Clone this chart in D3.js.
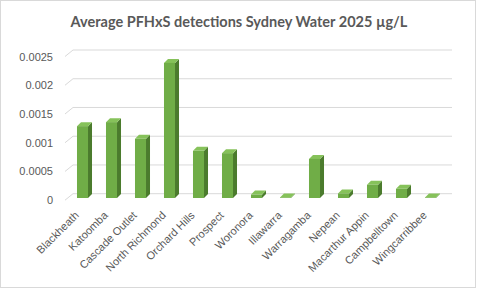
<!DOCTYPE html>
<html>
<head>
<meta charset="utf-8">
<script src="https://cdn.jsdelivr.net/npm/d3@7"></script>
<style>
  html, body { margin: 0; padding: 0; background: #fff; }
  svg { display: block; }
  text { font-family: "Liberation Sans", Arial, sans-serif; fill: #595959; }
</style>
</head>
<body>
<svg id="chart" width="480" height="289"></svg>
<script>
// Sites and average PFHxS values (µg/L)
const sites = [
  'Blackheath', 'Katoomba', 'Cascade Outlet', 'North Richmond', 'Orchard Hills',
  'Prospect', 'Woronora', 'Illawarra', 'Warragamba', 'Nepean',
  'Macarthur Appin', 'Campbelltown', 'Wingcarribbee'
];
const values = [
  0.00125, 0.00132, 0.00103, 0.00235, 0.00082,
  0.00078, 0.00006, 0.00001, 0.00068, 0.00008,
  0.00023, 0.00016, 0.00001
];
const yTicks = [0, 0.0005, 0.001, 0.0015, 0.002, 0.0025];
const yTickLabels = ['0', '0.0005', '0.001', '0.0015', '0.002', '0.0025'];

const svg = d3.select('#chart');

// 3D offsets: back wall vs front plane, bar depth
const WALL_DX = 5, WALL_DY = -4.3;
const FLOOR_DX = 8, FLOOR_DY = -6.5;
const DEPTH = 4;

const COLORS = {
  front: '#70ad47',
  side: '#4b7b2d',
  top: '#86c25a',
  grid: '#d9d9d9',
  border: '#d9d9d9'
};

// chart border
svg.append('rect')
  .attr('x', 0.5).attr('y', 0.5)
  .attr('width', 475).attr('height', 287)
  .attr('fill', '#fff')
  .attr('stroke', COLORS.border);

// title
svg.append('text')
  .attr('x', 239).attr('y', 27)
  .attr('text-anchor', 'middle')
  .style('font-family', 'Lato, "Liberation Sans", sans-serif')
  .style('font-weight', 'bold')
  .style('font-size', '14.5px')
  .text('Average PFHxS detections Sydney Water 2025 µg/L');

// front-plane scales
const x = d3.scaleBand()
  .domain(sites)
  .range([68, 445])
  .paddingInner(0.62)
  .paddingOuter(0.31);

const y = d3.scaleLinear()
  .domain([0, 0.0025])
  .range([198, 54.3]);

// gridlines on back wall + floor diagonals
const wallLeft = x.range()[0] + WALL_DX;
const wallRight = 452;
const grid = svg.append('g');
yTicks.forEach(t => {
  const yy = y(t) + WALL_DY;
  grid.append('line')
    .attr('x1', wallLeft).attr('x2', wallRight)
    .attr('y1', yy).attr('y2', yy)
    .attr('stroke', COLORS.grid).attr('stroke-width', 1);
  grid.append('line')
    .attr('x1', wallLeft - FLOOR_DX).attr('y1', yy - FLOOR_DY)
    .attr('x2', wallLeft).attr('y2', yy)
    .attr('stroke', COLORS.grid).attr('stroke-width', 1);
});

// y axis labels (aligned with front end of the floor diagonals)
svg.append('g').selectAll('text')
  .data(yTicks)
  .join('text')
  .attr('x', 53)
  .attr('y', d => y(d) + WALL_DY - FLOOR_DY + 0.5)
  .attr('dy', '0.32em')
  .attr('text-anchor', 'end')
  .style('font-size', '11px')
  .text((d, i) => yTickLabels[i]);

// bars
const bars = svg.append('g').selectAll('g')
  .data(sites.map((s, i) => ({ site: s, value: values[i] })))
  .join('g');

const w = x.bandwidth();

bars.append('path') // side
  .attr('fill', COLORS.side)
  .attr('d', d => {
    const x1 = x(d.site) + w, yt = y(d.value), yb = y(0);
    return `M${x1},${yt}L${x1 + DEPTH},${yt - DEPTH}L${x1 + DEPTH},${yb - DEPTH}L${x1},${yb}Z`;
  });

bars.append('path') // top
  .attr('fill', COLORS.top)
  .attr('d', d => {
    const x0 = x(d.site), yt = y(d.value);
    return `M${x0},${yt}L${x0 + w},${yt}L${x0 + w + DEPTH},${yt - DEPTH}L${x0 + DEPTH},${yt - DEPTH}Z`;
  });

bars.append('rect') // front
  .attr('fill', COLORS.front)
  .attr('x', d => x(d.site))
  .attr('width', w)
  .attr('y', d => y(d.value))
  .attr('height', d => y(0) - y(d.value));

// x labels, rotated
svg.append('g').selectAll('text')
  .data(sites)
  .join('text')
  .attr('text-anchor', 'end')
  .style('font-size', '11px')
  .attr('transform', d => `translate(${x(d) + w / 2 - 3},${216}) rotate(-45)`)
  .text(d => d);
</script>
</body>
</html>
